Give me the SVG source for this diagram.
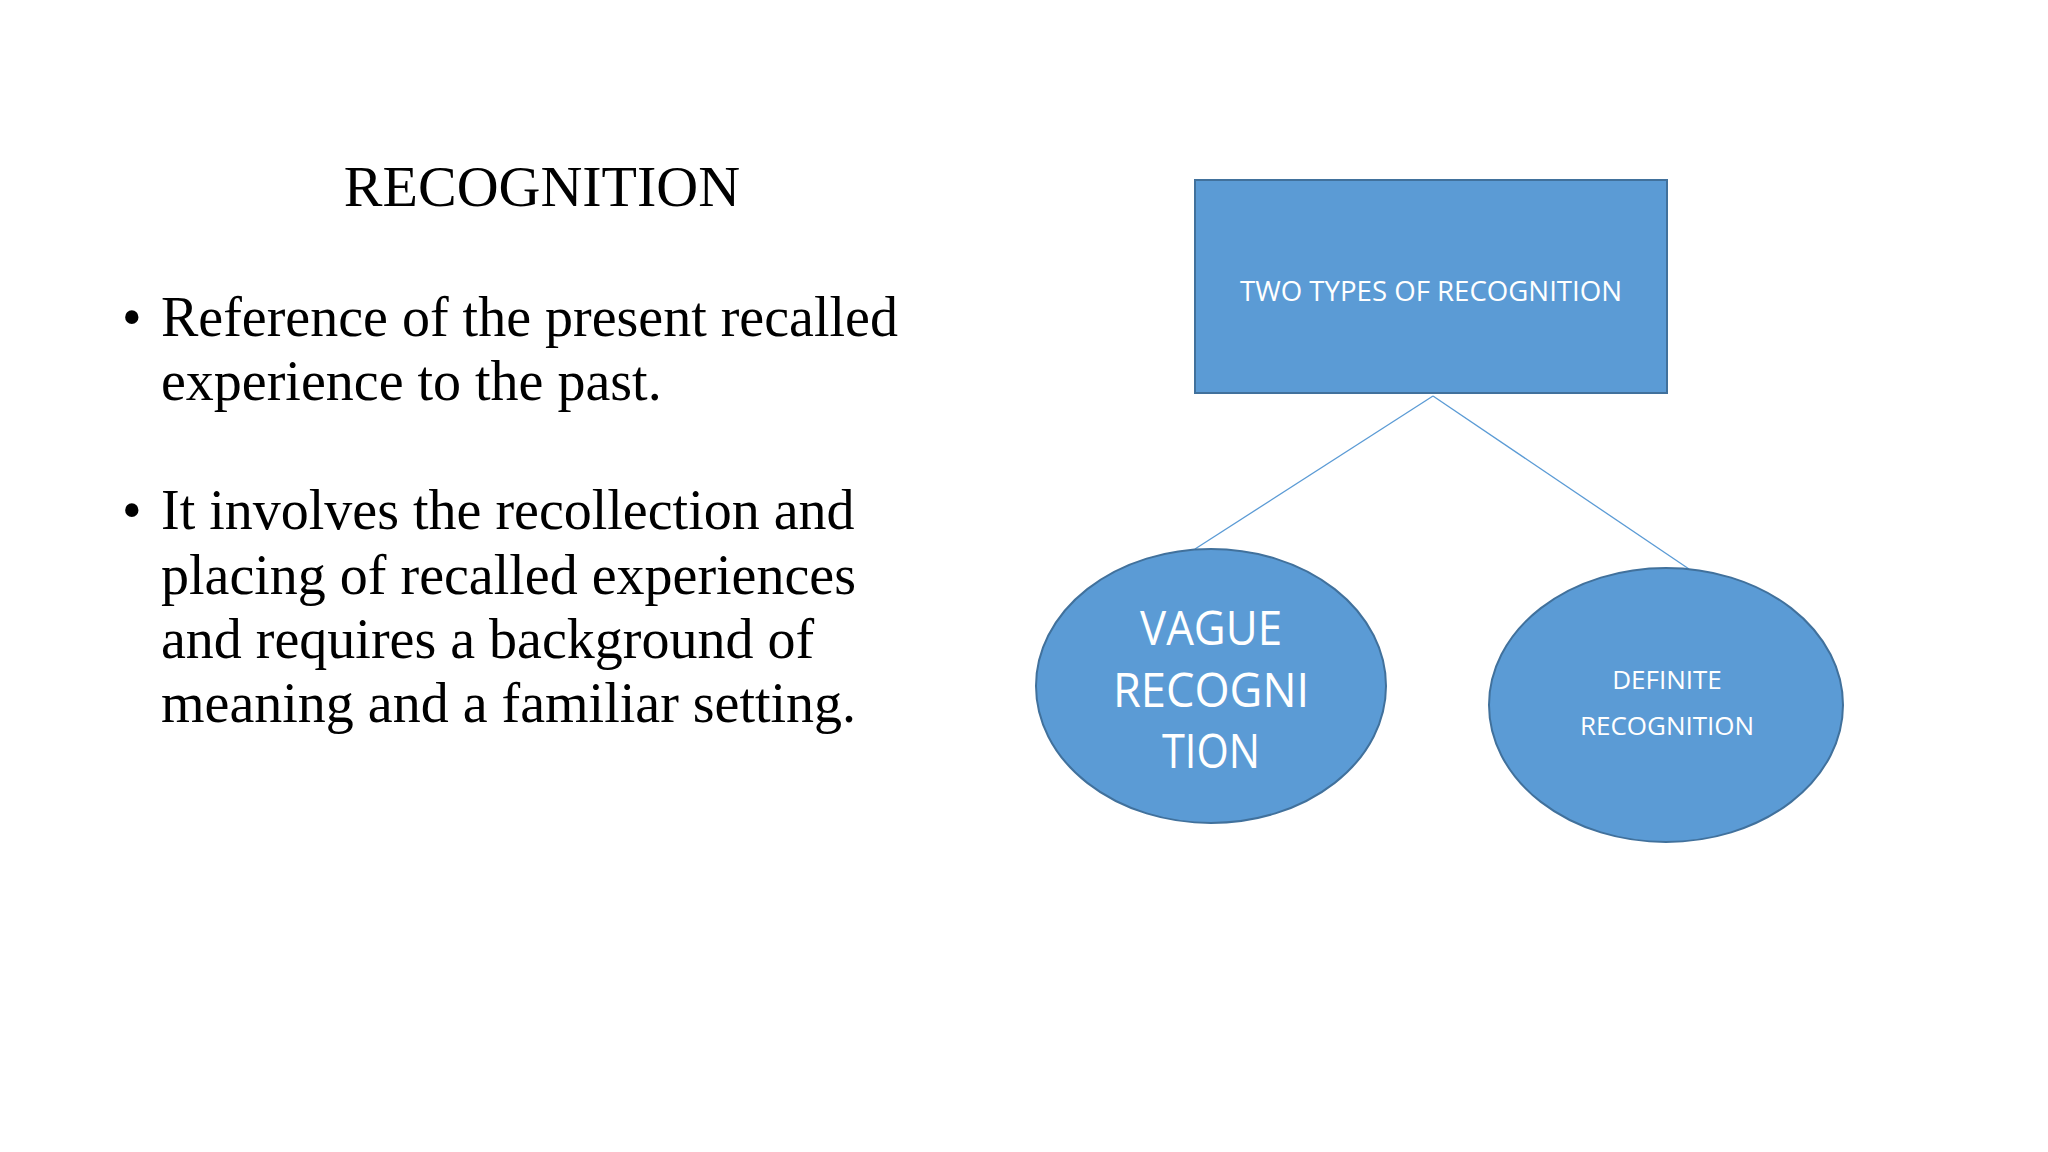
<svg xmlns="http://www.w3.org/2000/svg" width="2048" height="1152" viewBox="0 0 2048 1152">
<style>
.serif{font-family:"Liberation Serif","Times New Roman",serif;fill:#000}
.shape{fill:#5B9BD5;stroke:#41719C;stroke-width:2}
.lbl{font-family:"Open Sans","Liberation Sans",sans-serif;fill:#fff;text-anchor:middle}
.conn{stroke:#5B9BD5;stroke-width:1.3;fill:none}
</style>
<rect width="2048" height="1152" fill="#fff"/>
<g id="text">
<text class="serif" x="542" y="206" font-size="58" text-anchor="middle">RECOGNITION</text>
<g font-size="56" class="serif">
<text x="122" y="336">•</text>
<text x="161" y="336">Reference of the present recalled</text>
<text x="161" y="400">experience to the past.</text>
<text x="122" y="529">•</text>
<text x="161" y="529">It involves the recollection and</text>
<text x="161" y="594">placing of recalled experiences</text>
<text x="161" y="658">and requires a background of</text>
<text x="161" y="722">meaning and a familiar setting.</text>
</g>
</g>
<g id="connectors">
<line class="conn" x1="1433" y1="396" x2="1195" y2="549"/>
<line class="conn" x1="1433" y1="396" x2="1689" y2="569"/>
</g>
<g id="top">
<rect class="shape" x="1195" y="180" width="472" height="213"/>
<text class="lbl" x="1431" y="301" font-size="28" textLength="382" lengthAdjust="spacingAndGlyphs">TWO TYPES OF RECOGNITION</text>
</g>
<g id="vague">
<ellipse class="shape" cx="1211" cy="686" rx="175" ry="137"/>
<text class="lbl" font-size="48" x="1211" y="645" textLength="142" lengthAdjust="spacingAndGlyphs">VAGUE</text>
<text class="lbl" font-size="48" x="1211" y="707" textLength="196" lengthAdjust="spacingAndGlyphs">RECOGNI</text>
<text class="lbl" font-size="48" x="1211" y="768" textLength="98" lengthAdjust="spacingAndGlyphs">TION</text>
</g>
<g id="definite">
<ellipse class="shape" cx="1666" cy="705" rx="177" ry="137"/>
<text class="lbl" font-size="26" x="1667" y="689">DEFINITE</text>
<text class="lbl" font-size="26" x="1667" y="735">RECOGNITION</text>
</g>
</svg>
